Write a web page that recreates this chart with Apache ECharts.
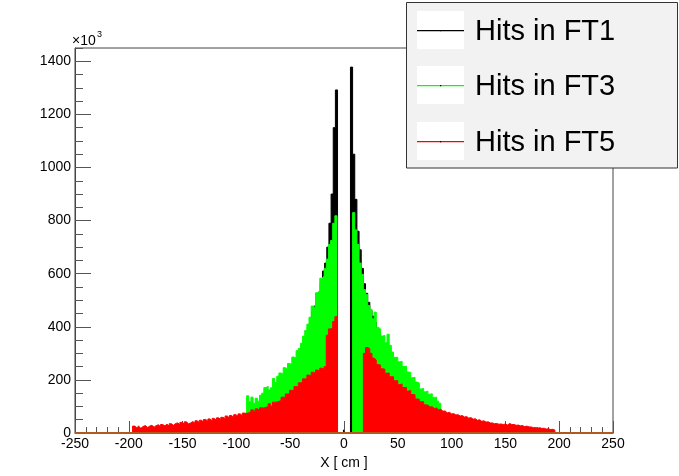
<!DOCTYPE html>
<html><head><meta charset="utf-8">
<script src="https://cdn.jsdelivr.net/npm/echarts@6/dist/echarts.min.js"></script>
<style>html,body{margin:0;padding:0;background:#fff}#c{width:679px;height:476px}</style>
</head><body><div id="c"></div>
<script>
const seriesNames = ['Hits in FT1', 'Hits in FT3', 'Hits in FT5'];
const seriesColors = ['#000000', '#00ff00', '#ff0000'];
const xRange = [-250, 250];
const yRange = [0, 1450];
const xTickStep = 50;
const yTickStep = 200;
const yMinorStep = 50;
const xTitle = 'X [ cm ]';
const yExponentBase = '\u00d710';
const yExponent = '3';
const binWidth = 2;

// FT1 (black)
const ft1LeftStart = -40;
const ft1Left = [320, 340, 362, 400, 425, 456, 478, 495, 530, 565, 610, 640, 700, 790, 900, 1150, 1292];
const ft1CenterStart = -0.5;
const ft1CenterWidth = 1;
const ft1Center = [12];
const ft1RightStart = 6;
const ft1Right = [1378, 1050, 880, 760, 690, 620, 562, 526, 492, 462, 440, 418, 392, 372, 352, 336, 320];

// FT3 (green)
const ft3LeftStart = -90.5;
const ft3Left = [140, 118, 135, 112, 131, 120, 142, 150, 171, 176, 162, 170, 205, 190, 214, 226, 222, 246, 242, 262,
  258, 286, 282, 310, 318, 338, 365, 386, 410, 436, 478, 472, 528, 535, 583, 590, 620, 655, 710, 725, 790, 818];
const ft3RightStart = 8;
const ft3Right = [830, 765, 710, 640, 598, 540, 522, 480, 466, 430, 455, 398, 392, 365, 368, 340, 372, 330, 305, 285,
  285, 268, 270, 250, 252, 230, 228, 208, 210, 192, 188, 166, 168, 155, 158, 146, 148, 134, 135, 120, 112];

// FT5 (red)
const ft5LeftStart = -196.5;
const ft5Left = [26, 20, 27, 19, 25, 28, 21, 26, 29, 22,
  28, 31, 24, 32, 27, 33, 26, 35, 29, 36,
  38, 31, 40, 34, 42, 35, 38, 43, 37, 46,
  40, 48, 42, 51, 44, 53, 46, 55, 48, 57,
  51, 59, 54, 64, 57, 66, 59, 69, 63, 72,
  66, 75, 74, 76, 79, 87, 80, 91, 85, 95,
  94, 97, 99, 110, 101, 116, 116, 119, 122, 135,
  134, 147, 148, 161, 159, 175, 173, 189, 190, 204,
  203, 218, 215, 229, 225, 237, 233, 244, 240, 250,
  368, 392, 395, 420, 438];
const ft5RightStart = 18;
const ft5Right = [300, 322, 318, 300, 282, 275, 258, 256, 242, 240,
  225, 226, 212, 212, 197, 197, 182, 185, 171, 172,
  158, 160, 145, 144, 128, 127, 118, 118, 106, 105,
  98, 99, 92, 94, 87, 89, 82, 83, 76, 78,
  72, 73, 68, 69, 64, 66, 60, 62, 56, 58,
  52, 54, 48, 50, 44, 46, 41, 42, 38, 38,
  35, 36, 33, 34, 32, 34, 30, 36, 32, 32,
  29, 30, 27, 28, 24, 26, 23, 23, 20, 21,
  18, 20, 17, 18, 15, 16, 13, 14, 11];

function histPoints(parts) {
  const pts = [];
  parts.forEach(function (p) {
    pts.push([p.start, 0]);
    p.values.forEach(function (v, i) {
      const a = p.start + i * p.width;
      pts.push([a, v], [a + p.width, v]);
    });
    pts.push([p.start + p.values.length * p.width, 0]);
  });
  return pts;
}

const histData = [
  histPoints([
    {start: ft1LeftStart, width: binWidth, values: ft1Left},
    {start: ft1CenterStart, width: ft1CenterWidth, values: ft1Center},
    {start: ft1RightStart, width: binWidth, values: ft1Right}
  ]),
  histPoints([
    {start: ft3LeftStart, width: binWidth, values: ft3Left},
    {start: ft3RightStart, width: binWidth, values: ft3Right}
  ]),
  histPoints([
    {start: ft5LeftStart, width: binWidth, values: ft5Left},
    {start: ft5RightStart, width: binWidth, values: ft5Right}
  ])
];

const FONT = 'Liberation Sans';
const series = histData.map(function (d, i) {
  return {
    name: seriesNames[i], type: 'line', data: d, symbol: 'none', showSymbol: false,
    lineStyle: {color: seriesColors[i], width: 1},
    areaStyle: {color: seriesColors[i], opacity: 1},
    itemStyle: {color: seriesColors[i]},
    animation: false, silent: true, z: 2 + i
  };
});
series.push({
  name: 'baseline', type: 'line', data: [[xRange[0], yRange[0]], [xRange[1], yRange[0]]],
  symbol: 'none', lineStyle: {color: '#b05a1e', width: 2}, clip: false, animation: false, silent: true, z: 6
});

const legendTop = [11, 66, 122];
const graphics = [
  {type: 'text', left: 72, top: 34, z: 10, style: {text: yExponentBase, font: '14px ' + FONT, fill: '#000'}},
  {type: 'text', left: 97, top: 30, z: 10, style: {text: yExponent, font: '9px ' + FONT, fill: '#000'}},
  {type: 'rect', z: 10, shape: {x: 406.5, y: 2.5, width: 271, height: 165.5},
    style: {fill: '#f2f2f2', stroke: '#333', lineWidth: 1}}
];
seriesNames.forEach(function (n, i) {
  const t = legendTop[i];
  graphics.push({type: 'rect', z: 11, shape: {x: 417, y: t, width: 47, height: 38}, style: {fill: '#ffffff'}});
  graphics.push({type: 'rect', z: 12, shape: {x: 417, y: t + 19, width: 47, height: 1.2},
    style: {fill: seriesColors[i]}});
  graphics.push({type: 'rect', z: 13, shape: {x: 440, y: t + 19, width: 1.2, height: 1.2}, style: {fill: '#000000'}});
  graphics.push({type: 'text', z: 12, x: 475, y: t + 20.5,
    style: {text: n, font: '29px ' + FONT, fill: '#000', verticalAlign: 'middle', align: 'left'}});
});

const chart = echarts.init(document.getElementById('c'), null, {renderer: 'canvas'});
chart.setOption({
  backgroundColor: '#ffffff',
  animation: false,
  grid: {left: 75, right: 66, top: 48, bottom: 43, show: true, borderColor: '#444', borderWidth: 1, backgroundColor: 'transparent'},
  xAxis: {
    type: 'value', min: xRange[0], max: xRange[1], interval: xTickStep,
    name: xTitle, nameLocation: 'middle', nameGap: 21,
    nameTextStyle: {fontFamily: FONT, fontSize: 14, color: '#000'},
    axisLine: {show: true, onZero: false, lineStyle: {color: '#444', width: 1}},
    axisTick: {show: true, inside: true, length: 12, lineStyle: {color: '#555'}},
    minorTick: {show: true, splitNumber: 5, length: 6, lineStyle: {color: '#555'}},
    axisLabel: {fontFamily: FONT, fontSize: 14, color: '#000', margin: 4},
    splitLine: {show: false}, minorSplitLine: {show: false}
  },
  yAxis: [{
    type: 'value', position: 'left', min: yRange[0], max: yRange[1], interval: yTickStep,
    axisLine: {show: true, onZero: false, lineStyle: {color: '#444', width: 1}},
    axisTick: {show: true, inside: true, length: 16, lineStyle: {color: '#555'}},
    axisLabel: {fontFamily: FONT, fontSize: 14, color: '#000', margin: 4, showMaxLabel: false,
      formatter: function (v) { return String(v); }},
    splitLine: {show: false}
  }, {
    type: 'value', position: 'left', min: yRange[0], max: yRange[1], interval: yMinorStep,
    axisLine: {show: false, onZero: false},
    axisTick: {show: true, inside: true, length: 8, lineStyle: {color: '#555'}},
    axisLabel: {show: false},
    splitLine: {show: false}
  }],
  series: series,
  graphic: graphics
});
</script></body></html>
